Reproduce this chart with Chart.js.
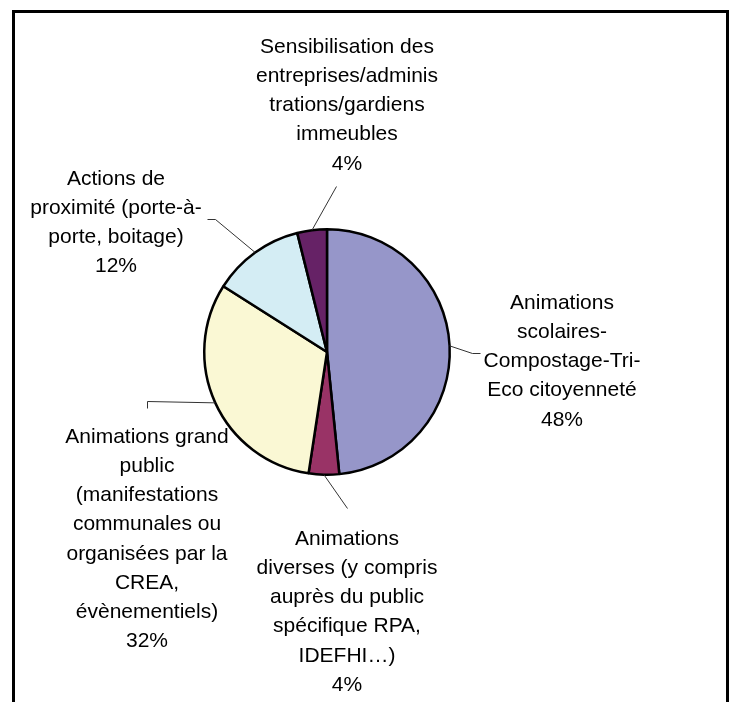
<!DOCTYPE html>
<html>
<head>
<meta charset="utf-8">
<script src="https://cdn.jsdelivr.net/npm/chart.js@4/dist/chart.umd.min.js"></script>
<style>
html,body{margin:0;padding:0;background:#fff;overflow:hidden;}
#wrap{position:absolute;left:0;top:0;width:730px;height:702px;}
#frame{position:absolute;left:12px;top:10px;width:717px;height:800px;border:3px solid #000;box-sizing:border-box;}
canvas{position:absolute;left:0;top:0;}
</style>
</head>
<body>
<div id="wrap">
<div id="frame"></div>
<canvas id="c" width="730" height="702"></canvas>
</div>
<script>
const categories = [
  ['Animations', 'scolaires-', 'Compostage-Tri-', 'Eco citoyenneté'],
  ['Animations', 'diverses (y compris', 'auprès du public', 'spécifique RPA,', 'IDEFHI…)'],
  ['Animations grand', 'public', '(manifestations', 'communales ou', 'organisées par la', 'CREA,', 'évènementiels)'],
  ['Actions de', 'proximité (porte-à-', 'porte, boitage)'],
  ['Sensibilisation des', 'entreprises/adminis', 'trations/gardiens', 'immeubles']
];
const values = [48.4, 4.0, 31.6, 12.1, 3.9];
const colors = ['#9696C9', '#993366', '#FAF8D4', '#D4EDF4', '#662266'];

// label layout: centre x, first line middle y, leader line waypoints (after the arc midpoint)
const labelLayout = [
  {x: 562, y: 303, lead: [[472, 353], [480, 353]]},
  {x: 347, y: 539, lead: [[347, 508]]},
  {x: 147, y: 437, lead: [[147, 401], [147, 408]]},
  {x: 116, y: 179, lead: [[215, 219], [207, 219]]},
  {x: 347, y: 47,  lead: [[336, 186]]}
];

const labelPlugin = {
  id: 'pieLabels',
  afterDraw(chart) {
    const ctx = chart.ctx;
    const meta = chart.getDatasetMeta(0);
    const data = chart.data.datasets[0].data;
    const total = data.reduce((a, b) => a + b, 0);
    ctx.save();
    meta.data.forEach((arc, i) => {
      const p = arc.getProps(['x', 'y', 'startAngle', 'endAngle', 'outerRadius'], true);
      const mid = (p.startAngle + p.endAngle) / 2;
      const sx = p.x + Math.cos(mid) * p.outerRadius;
      const sy = p.y + Math.sin(mid) * p.outerRadius;
      const L = labelLayout[i];
      ctx.strokeStyle = '#333';
      ctx.lineWidth = 1;
      ctx.beginPath();
      ctx.moveTo(sx, sy);
      L.lead.forEach(pt => ctx.lineTo(pt[0] + 0.5, pt[1] + 0.5));
      ctx.stroke();
      const lines = chart.data.labels[i].concat([Math.round(data[i] / total * 100) + '%']);
      ctx.fillStyle = '#000';
      ctx.font = '21px "Liberation Sans", Arial, sans-serif';
      ctx.textAlign = 'center';
      ctx.textBaseline = 'middle';
      lines.forEach((t, k) => ctx.fillText(t, L.x, L.y + k * 29.2));
    });
    ctx.restore();
  }
};

new Chart(document.getElementById('c'), {
  type: 'pie',
  data: {
    labels: categories,
    datasets: [{
      data: values,
      backgroundColor: colors,
      borderColor: '#000',
      borderWidth: 2.5
    }]
  },
  options: {
    responsive: false,
    animation: false,
    rotation: 0,
    layout: {padding: {left: 203, right: 279, top: 228, bottom: 226}},
    plugins: {legend: {display: false}, tooltip: {enabled: false}}
  },
  plugins: [labelPlugin]
});
</script>
</body>
</html>
